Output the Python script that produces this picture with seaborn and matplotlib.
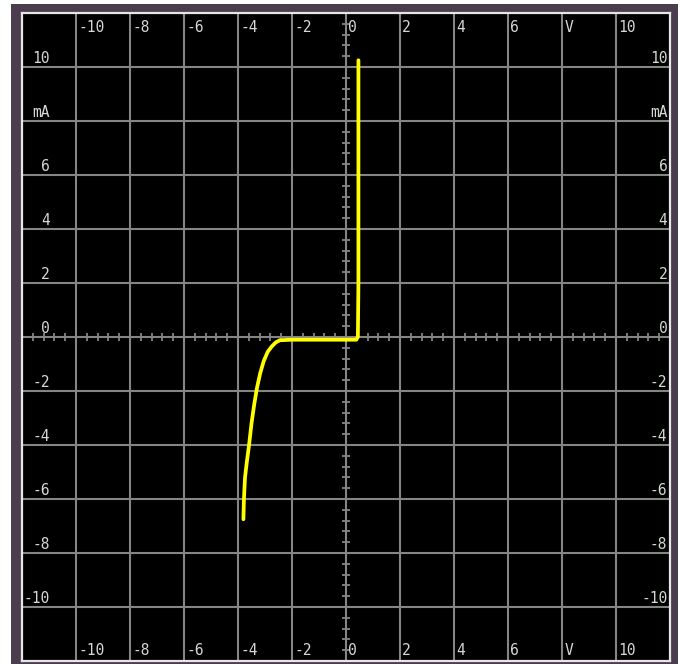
import numpy as np
import pandas as pd
import matplotlib
matplotlib.use("Agg")
import matplotlib.pyplot as plt
from matplotlib.patches import Rectangle
import seaborn as sns

# ---- data ----
voltage_v = [-3.80, -3.78, -3.74, -3.67, -3.59, -3.50, -3.40, -3.30, -3.18, -3.05,
             -2.90, -2.75, -2.60, -2.45, -2.00, -1.00, 0.00, 0.38, 0.44, 0.45,
             0.46, 0.46, 0.46]
current_ma = [-6.75, -6.00, -5.20, -4.60, -4.00, -3.20, -2.50, -1.90, -1.35, -0.90,
              -0.55, -0.35, -0.20, -0.12, -0.10, -0.10, -0.10, -0.10, 0.00, 1.00,
              2.00, 5.00, 10.25]
x_tick_values = [-10, -8, -6, -4, -2, 0, 2, 4, 6, 8, 10]
x_tick_labels = ["-10", "-8", "-6", "-4", "-2", "0", "2", "4", "6", "V", "10"]
y_tick_values = [10, 8, 6, 4, 2, 0, -2, -4, -6, -8, -10]
y_tick_labels = ["10", "mA", "6", "4", "2", "0", "-2", "-4", "-6", "-8", "-10"]

df = pd.DataFrame({"V": voltage_v, "I": current_ma})

sns.set_style("dark")
plt.rcParams["font.family"] = ["DejaVu Sans Mono", "DejaVu Sans"]

W, H = 680, 664
fig = plt.figure(figsize=(W / 100, H / 100), dpi=100, facecolor="white")

# purple instrument frame
frame = Rectangle((11 / W, 0), (678 - 11) / W, (664 - 4) / H,
                  transform=fig.transFigure, facecolor="#4a3d4d",
                  edgecolor="none", zorder=-5)
fig.patches.append(frame)

ax = fig.add_axes([22 / W, 3 / H, 648 / W, 648 / H])
ax.set_zorder(5)
ax.set_facecolor("black")
ax.set_xlim(-12, 12)
ax.set_ylim(-12, 12)

grid_c = "#858585"
for v in x_tick_values:
    ax.axvline(v, color=grid_c, lw=1.5, zorder=1)
for v in y_tick_values:
    ax.axhline(v, color=grid_c, lw=1.5, zorder=1)

# minor ticks along centre axes
minor = np.arange(-12, 12.001, 0.4)
ax.vlines(minor, -0.13, 0.13, color=grid_c, lw=1.3, zorder=1)
ax.hlines(minor, -0.13, 0.13, color=grid_c, lw=1.3, zorder=1)

sns.lineplot(data=df, x="V", y="I", sort=False, estimator=None,
             color="#ffff00", lw=2.7, ax=ax, zorder=3)

ax.set_xticks([])
ax.set_yticks([])
ax.set_xlabel("")
ax.set_ylabel("")
for s in ax.spines.values():
    s.set_visible(True)
    s.set_color("#e6e6e6")
    s.set_linewidth(1.6)

txt_c = "#d6d6d6"
fs = 10.5
for v, lab in zip(x_tick_values, x_tick_labels):
    ax.text(v + 0.08, 11.45, lab, color=txt_c, fontsize=fs, ha="left", va="center")
    ax.text(v + 0.08, -11.6, lab, color=txt_c, fontsize=fs, ha="left", va="center")
for v, lab in zip(y_tick_values, y_tick_labels):
    ax.text(-10.98, v + 0.05, lab, color=txt_c, fontsize=fs, ha="right", va="bottom")
    ax.text(11.9, v + 0.05, lab, color=txt_c, fontsize=fs, ha="right", va="bottom")

fig.savefig("out.png", dpi=100, facecolor="white")
